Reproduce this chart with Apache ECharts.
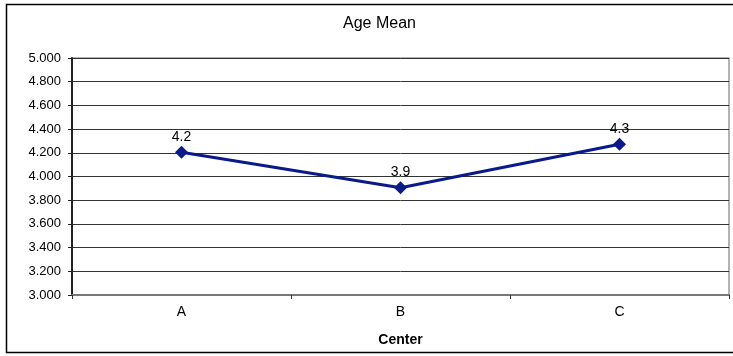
<!DOCTYPE html>
<html>
<head>
<meta charset="utf-8">
<script src="https://cdn.jsdelivr.net/npm/echarts@6/dist/echarts.min.js"></script>
<style>
  html, body { margin: 0; padding: 0; background: #fff; }
  #chart { width: 733px; height: 356px; }
</style>
</head>
<body>
<div id="chart"></div>
<script>
// Mean age per center
const categories = ['A', 'B', 'C'];
const ageMean = [4.205, 3.905, 4.272];
const yMin = 3.0;
const yMax = 5.0;
const yStep = 0.2;

const FONT = '"Liberation Sans", Arial, sans-serif';

const chart = echarts.init(document.getElementById('chart'), null, { renderer: 'canvas' });

chart.setOption({
  animation: false,
  backgroundColor: '#fff',
  title: {
    text: 'Age Mean',
    left: 338,
    top: 11,
    textStyle: { fontFamily: FONT, fontSize: 16, fontWeight: 'normal', color: '#000' }
  },
  graphic: [{
    type: 'rect',
    shape: { x: 6.5, y: 4.5, width: 740, height: 348 },
    style: { fill: 'none', stroke: '#000', lineWidth: 1.5 },
    silent: true,
    z: -1
  }],
  grid: {
    left: 72,
    top: 58,
    right: 4,
    bottom: 61,
    show: true,
    borderColor: '#999',
    borderWidth: 1.5,
    backgroundColor: 'transparent'
  },
  xAxis: {
    type: 'category',
    data: categories,
    boundaryGap: true,
    name: 'Center',
    nameLocation: 'middle',
    nameGap: 38,
    nameTextStyle: { fontFamily: FONT, fontSize: 14, fontWeight: 'bold', color: '#000' },
    axisLine: { show: true, lineStyle: { color: '#777', width: 2 } },
    axisTick: { show: true, alignWithLabel: false, length: 4, lineStyle: { color: '#333' } },
    axisLabel: { fontFamily: FONT, fontSize: 14, color: '#000', margin: 10 },
    splitLine: { show: false }
  },
  yAxis: {
    type: 'value',
    min: yMin,
    max: yMax,
    interval: yStep,
    axisLine: { show: true, lineStyle: { color: '#222', width: 2 } },
    axisTick: { show: true, length: 4, lineStyle: { color: '#222' } },
    axisLabel: {
      fontFamily: FONT, fontSize: 13, color: '#000', margin: 11,
      formatter: v => v.toFixed(3)
    },
    splitLine: { show: true, lineStyle: { color: '#333', width: 1 } }
  },
  series: [{
    type: 'line',
    data: ageMean,
    symbol: 'diamond',
    symbolSize: 13,
    lineStyle: { color: '#0a1a8a', width: 3 },
    itemStyle: { color: '#0a1a8a' },
    label: {
      show: true,
      position: 'top',
      distance: 2,
      fontFamily: FONT,
      fontSize: 14,
      color: '#000',
      formatter: p => p.value.toFixed(1)
    }
  }]
});
</script>
</body>
</html>
